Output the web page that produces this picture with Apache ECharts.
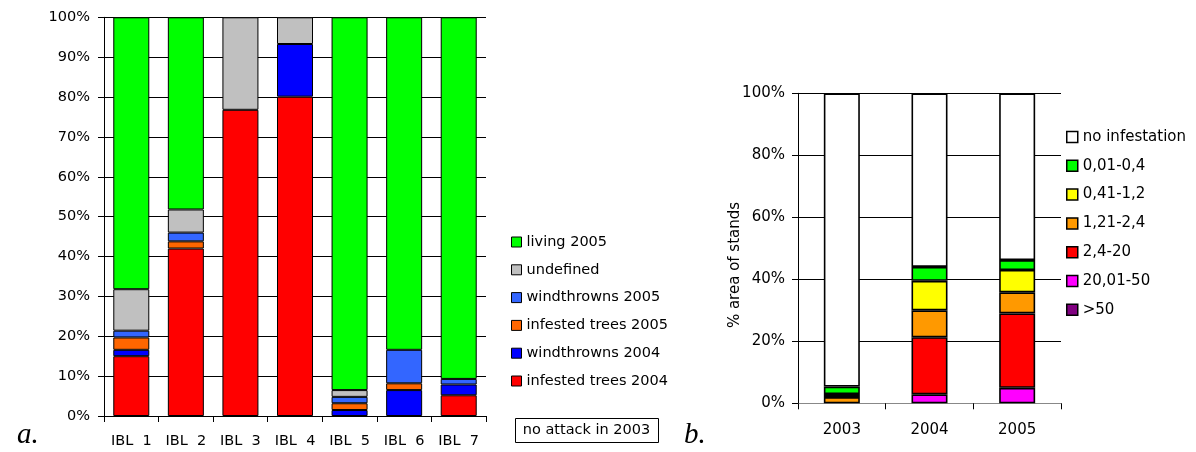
<!DOCTYPE html>
<html>
<head>
<meta charset="utf-8">
<script src="https://cdn.jsdelivr.net/npm/echarts@6/dist/echarts.min.js"></script>
<style>
  html, body { margin: 0; padding: 0; background: #fff; }
  #chart { width: 1196px; height: 452px; }
</style>
</head>
<body>
<div id="chart"></div>
<script>
// ---- panel a: share of trees per stand (%) ----
const stands = ['IBL  1', 'IBL  2', 'IBL  3', 'IBL  4', 'IBL  5', 'IBL  6', 'IBL  7'];
const infested2004    = [15.0, 42.0, 76.8, 80.1, 0.0, 0.0, 5.2];
const windthrown2004  = [1.6, 0.0, 0.0, 13.2, 1.5, 6.5, 2.7];
const infested2005    = [3.1, 1.8, 0.0, 0.0, 1.7, 1.7, 0.0];
const windthrown2005  = [1.7, 2.2, 0.0, 0.0, 1.6, 8.4, 1.4];
const undefinedTrees  = [10.4, 5.8, 23.2, 6.7, 1.7, 0.0, 0.0];
const living2005      = [68.2, 48.2, 0.0, 0.0, 93.5, 83.4, 90.7];
const standTicks      = [0, 10, 20, 30, 40, 50, 60, 70, 80, 90, 100];

// ---- panel b: % area of stands by infestation class ----
const years           = ['2003', '2004', '2005'];
const over50          = [0.0, 0.0, 0.0];
const class20to50     = [0.0, 2.9, 5.0];
const class24to20     = [0.0, 18.4, 24.0];
const class121to24    = [2.0, 8.7, 6.8];
const class041to12    = [1.0, 9.5, 7.2];
const class001to04    = [2.4, 4.5, 3.2];
const noInfestation   = [94.6, 56.0, 53.8];
const areaTicks       = [0, 20, 40, 60, 80, 100];

const FONT = 'DejaVu Sans';

// bottom-to-top stacking order for each panel
const leftStack = [
  { name: 'infested trees 2004', data: infested2004, color: '#ff0000' },
  { name: 'windthrowns 2004', data: windthrown2004, color: '#0000ff' },
  { name: 'infested trees 2005', data: infested2005, color: '#ff6600' },
  { name: 'windthrowns 2005', data: windthrown2005, color: '#3366ff' },
  { name: 'undefined', data: undefinedTrees, color: '#c0c0c0' },
  { name: 'living 2005', data: living2005, color: '#00ff00' }
];
const rightStack = [
  { name: '>50', data: over50, color: '#800080' },
  { name: '20,01-50', data: class20to50, color: '#ff00ff' },
  { name: '2,4-20', data: class24to20, color: '#ff0000' },
  { name: '1,21-2,4', data: class121to24, color: '#ff9900' },
  { name: '0,41-1,2', data: class041to12, color: '#ffff00' },
  { name: '0,01-0,4', data: class001to04, color: '#00ff00' },
  { name: 'no infestation', data: noInfestation, color: '#ffffff' }
];

// empty segments are skipped so they leave no outline behind
const present = arr => arr.map(v => (v > 0 ? v : null));

const series = [];
leftStack.forEach(s => series.push({
  type: 'bar', name: s.name, data: present(s.data), stack: 'a',
  xAxisIndex: 0, yAxisIndex: 0, barWidth: 36,
  itemStyle: { color: s.color, borderColor: '#000', borderWidth: 1 },
  emphasis: { disabled: true }, animation: false
}));
rightStack.forEach(s => series.push({
  type: 'bar', name: s.name, data: present(s.data), stack: 'b',
  xAxisIndex: 1, yAxisIndex: 1, barWidth: 36,
  itemStyle: { color: s.color, borderColor: '#000', borderWidth: 1.6 },
  emphasis: { disabled: true }, animation: false
}));

const chart = echarts.init(document.getElementById('chart'), null, { renderer: 'canvas' });

chart.setOption({
  backgroundColor: '#fff',
  animation: false,
  grid: [
    { left: 104, top: 17.3, width: 382, height: 398.7 },
    { left: 798, top: 93.3, width: 263, height: 310 }
  ],
  xAxis: [
    {
      gridIndex: 0, type: 'category', data: stands,
      axisLine: { lineStyle: { color: '#000', width: 1 } },
      axisTick: { show: true, length: 6, lineStyle: { color: '#000' } },
      axisLabel: { color: '#000', fontFamily: FONT, fontSize: 14.5, margin: 18 }
    },
    {
      gridIndex: 1, type: 'category', data: years,
      axisLine: { lineStyle: { color: '#888', width: 1 } },
      axisTick: { show: true, length: 6, lineStyle: { color: '#000' } },
      axisLabel: { color: '#000', fontFamily: FONT, fontSize: 15, margin: 19 }
    }
  ],
  yAxis: [
    {
      gridIndex: 0, type: 'value', min: standTicks[0], max: standTicks[standTicks.length - 1], interval: 10,
      axisLine: { show: true, lineStyle: { color: '#000', width: 1 } },
      axisTick: { show: true, length: 6, lineStyle: { color: '#000' } },
      axisLabel: { color: '#000', fontFamily: FONT, fontSize: 14.5, margin: 14, formatter: '{value}%' },
      splitLine: { show: true, lineStyle: { color: '#000', width: 1 } }
    },
    {
      gridIndex: 1, type: 'value', min: areaTicks[0], max: areaTicks[areaTicks.length - 1], interval: 20,
      axisLine: { show: true, lineStyle: { color: '#000', width: 1 } },
      axisTick: { show: true, length: 6, lineStyle: { color: '#000' } },
      axisLabel: { color: '#000', fontFamily: FONT, fontSize: 15, margin: 13, formatter: '{value}%' },
      splitLine: { show: true, lineStyle: { color: '#000', width: 1 } }
    }
  ],
  legend: [
    {
      orient: 'vertical', left: 506, top: 229, padding: 5,
      data: leftStack.map(s => s.name).reverse(),
      icon: 'rect', itemWidth: 10, itemHeight: 10, itemGap: 11.8,
      itemStyle: { borderColor: '#000', borderWidth: 1 },
      textStyle: { color: '#000', fontFamily: FONT, fontSize: 14.5, lineHeight: 16 },
      selectedMode: false
    },
    {
      orient: 'vertical', left: 1061, top: 124, padding: 5,
      data: rightStack.map(s => s.name).reverse(),
      icon: 'rect', itemWidth: 11, itemHeight: 11, itemGap: 12.8,
      itemStyle: { borderColor: '#000', borderWidth: 1.5 },
      textStyle: { color: '#000', fontFamily: FONT, fontSize: 15, lineHeight: 16 },
      selectedMode: false
    }
  ],
  graphic: [
    {
      type: 'rect', left: 515, top: 418,
      shape: { width: 143, height: 24 },
      style: { fill: '#fff', stroke: '#000', lineWidth: 1 }
    },
    {
      type: 'text', x: 586.5, y: 430,
      style: { text: 'no attack in 2003', fill: '#000', font: '14.5px "DejaVu Sans"', align: 'center', verticalAlign: 'middle' }
    },
    {
      type: 'text', x: 735, y: 265, rotation: Math.PI / 2,
      style: { text: '% area of stands', fill: '#000', font: '15px "DejaVu Sans"', align: 'center', verticalAlign: 'middle' }
    },
    {
      type: 'text', x: 17, y: 450,
      style: { text: 'a.', fill: '#000', font: 'italic 29px "Liberation Serif"', align: 'left', verticalAlign: 'bottom' }
    },
    {
      type: 'text', x: 684, y: 450,
      style: { text: 'b.', fill: '#000', font: 'italic 29px "Liberation Serif"', align: 'left', verticalAlign: 'bottom' }
    }
  ],
  series: series
});
</script>
</body>
</html>
